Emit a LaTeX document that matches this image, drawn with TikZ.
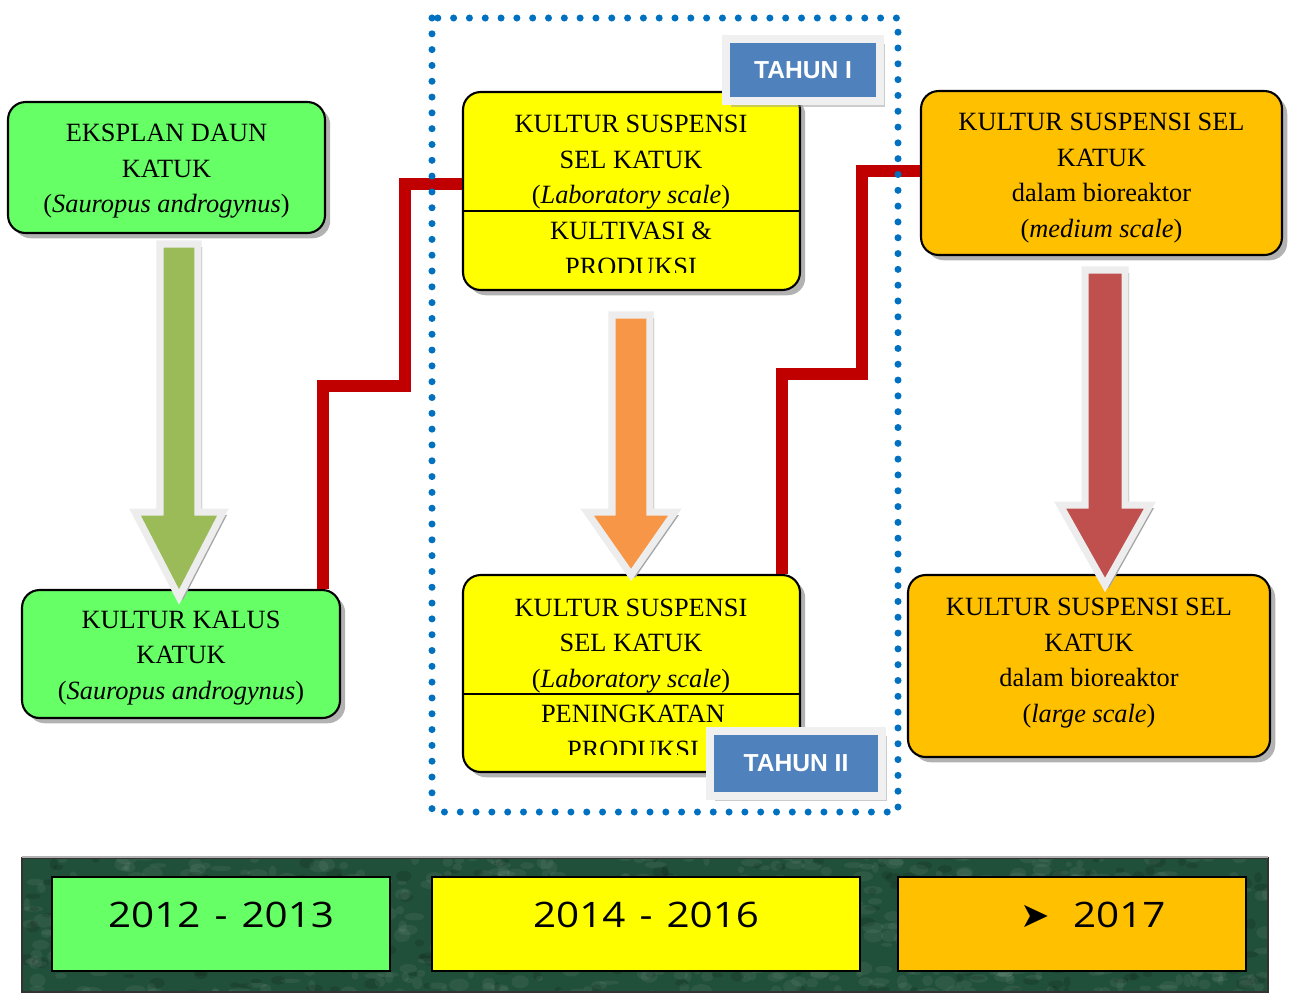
\documentclass[tikz,border=0pt]{standalone}
\usepackage{fontspec}
\setmainfont{Liberation Serif}
\newfontfamily\labelfont{Liberation Sans}
\newfontfamily\yearfont[FakeStretch=1.15]{Open Sans}
\newfontfamily\symfont{DejaVu Sans}
\usetikzlibrary{shadows}
\usetikzlibrary{calc}

\definecolor{boxgreen}{HTML}{66FF66}
\definecolor{boxyellow}{HTML}{FFFF00}
\definecolor{boxorange}{HTML}{FFC000}
\definecolor{arrgreen}{HTML}{9BBB59}
\definecolor{arrorange}{HTML}{F79646}
\definecolor{arrred}{HTML}{C0504D}
\definecolor{linered}{HTML}{C00000}
\definecolor{dotblue}{HTML}{0070C0}
\definecolor{tahunblue}{HTML}{4F81BD}
\definecolor{bargreen}{HTML}{21503A}

\tikzset{
  box/.style={draw=black, line width=1.2pt, rounded corners=10pt, inner sep=0pt,
    drop shadow={shadow xshift=3pt, shadow yshift=-3pt, fill=black!60}},
  boxtext/.style={align=center, inner sep=0pt, font=\fontsize{15}{20.2}\selectfont},
  conn/.style={draw=linered, line width=6.8pt},
  dotline/.style={draw=dotblue, line width=4pt, line cap=round, dash pattern=on 0pt off 9pt},
  tahun/.style={fill=tahunblue, draw=white!94!black, line width=4.5pt, text=white,
    font=\labelfont\bfseries\fontsize{14}{16}\selectfont,
    drop shadow={shadow xshift=3pt, shadow yshift=-3pt, fill=black!40}},
  yearbox/.style={draw=black, line width=1.2pt, text depth=10pt,
    font=\yearfont\fontsize{20}{24}\selectfont}
}

% panah besar: x tengah, setengah lebar, atas, awal kepala, setengah kepala, ujung, warna
\newcommand{\fatarrow}[7]{%
  \fill[black!35, shift={(4,3)}] (#1-#2,#3) -- (#1+#2,#3) -- (#1+#2,#4) -- (#1+#5,#4)
    -- (#1,#6) -- (#1-#5,#4) -- (#1-#2,#4) -- cycle;
  \draw[line width=4pt, draw=white!93!black, fill=#7] (#1-#2,#3) -- (#1+#2,#3) -- (#1+#2,#4)
    -- (#1+#5,#4) -- (#1,#6) -- (#1-#5,#4) -- (#1-#2,#4) -- cycle;
}

\begin{document}
\begin{tikzpicture}[x=0.02cm, y=-0.02cm]
  \useasboundingbox (0,0) rectangle (1291,992);

  % Kotak-kotak
  \node[box, fill=boxgreen, minimum width=6.34cm, minimum height=2.62cm] (eksplan) at (166.5,167.5) {};
  \node[box, fill=boxgreen, minimum width=6.36cm, minimum height=2.56cm] (kalus) at (181,654) {};
  \node[box, fill=boxyellow, minimum width=6.74cm, minimum height=3.96cm] (susp1) at (631.5,191) {};
  \node[box, fill=boxyellow, minimum width=6.74cm, minimum height=3.94cm] (susp2) at (631.5,673.5) {};
  \node[box, fill=boxorange, minimum width=7.22cm, minimum height=3.28cm] (bio1) at (1101.5,173) {};
  \node[box, fill=boxorange, minimum width=7.24cm, minimum height=3.64cm] (bio2) at (1089,666) {};

  % Isi kotak
  \node[boxtext] (eksplantxt) at ($(eksplan)+(0,4)$) {EKSPLAN DAUN\\KATUK\\(\textit{Sauropus androgynus})};
  \node[boxtext] (kalustxt) at ($(kalus)+(0,4)$) {KULTUR KALUS\\KATUK\\(\textit{Sauropus androgynus})};
  \node[boxtext] (bio1txt) at ($(bio1)+(0,5)$)
    {KULTUR SUSPENSI SEL\\KATUK\\dalam bioreaktor\\(\textit{medium scale})};
  \node[boxtext] (bio2txt) at ($(bio2)+(0,-3)$)
    {KULTUR SUSPENSI SEL\\KATUK\\dalam bioreaktor\\(\textit{large scale})};
  \draw[line width=1.2pt] (susp1.west |- 0,211) -- (susp1.east |- 0,211);
  \draw[line width=1.2pt] (susp2.west |- 0,694) -- (susp2.east |- 0,694);
  \node[boxtext] (lab1) at (631,162.5) {KULTUR SUSPENSI\\SEL KATUK\\(\textit{Laboratory scale})};
  \node[boxtext] (lab2) at (631,646) {KULTUR SUSPENSI\\SEL KATUK\\(\textit{Laboratory scale})};
  \begin{scope}
    \clip (463,212) rectangle (800,272);
    \node[boxtext] (kultivasi) at (631,249) {KULTIVASI \&\\PRODUKSI};
  \end{scope}
  \begin{scope}
    \clip (463,695) rectangle (800,754);
    \node[boxtext] (peningkatan) at (633,732) {PENINGKATAN\\PRODUKSI};
  \end{scope}

  % Penghubung
  \coordinate (belok1) at (405,386);
  \coordinate (belok2) at (862,374);
  \draw[conn] ($(kalus.north east)+(-18,0)$) |- (belok1) |- ($(susp1.west)+(0,-7)$);
  \draw[conn] ($(susp2.north east)+(-19,0)$) |- (belok2) |- ($(bio1.west)+(0,-2)$);

  % Bingkai tahun
  \draw[dotline] (432,18) rectangle (898,812);

  % Panah besar
  \fatarrow{179}{19}{244}{512}{44}{597}{arrgreen}
  \fatarrow{631}{19}{315}{512}{44}{575}{arrorange}
  \fatarrow{1105}{20}{270}{505}{45}{585}{arrred}

  % Label tahun
  \node[tahun, minimum width=3.08cm, minimum height=1.25cm] (tahun1) at (803,70) {TAHUN I};
  \node[tahun, minimum width=3.44cm, minimum height=1.3cm] (tahun2) at (796,763.5) {TAHUN II};

  % Garis waktu
  \begin{scope}
    \clip (22,858) rectangle (1268,992);
    \fill[bargreen] (22,858) rectangle (1268,992);
    \pgfmathsetseed{12}
    \foreach \i in {1,...,700}{
      \pgfmathsetmacro{\tx}{22+1246*rnd}
      \pgfmathsetmacro{\ty}{850+150*rnd}
      \pgfmathsetmacro{\ra}{3+8*rnd}
      \pgfmathsetmacro{\rb}{2+5*rnd}
      \fill[white, opacity=0.06] (\tx,\ty) ellipse ({\ra*0.02cm} and {\rb*0.02cm});
    }
    \foreach \i in {1,...,300}{
      \pgfmathsetmacro{\tx}{22+1246*rnd}
      \pgfmathsetmacro{\ty}{850+150*rnd}
      \fill[black, opacity=0.12] (\tx,\ty) ellipse ({(3+6*rnd)*0.02cm} and {(2+4*rnd)*0.02cm});
    }
  \end{scope}
  \draw[black!80, line width=0.8pt] (22,858) rectangle (1268,992);
  \draw[black!30, line width=0.8pt] (22,857) -- (1268,857);
  \node[yearbox, fill=boxgreen, minimum width=6.76cm, minimum height=1.88cm] (th1) at (221,924)
    {2012\hspace{0.4em}-\hspace{0.4em}2013};
  \node[yearbox, fill=boxyellow, minimum width=8.56cm, minimum height=1.88cm] (th2) at (646,924)
    {2014\hspace{0.4em}-\hspace{0.4em}2016};
  \node[yearbox, fill=boxorange, minimum width=6.96cm, minimum height=1.88cm] (th3) at (1072,924)
    {\hspace*{24pt}{\symfont ➤}\hspace{0.65em}2017};
\end{tikzpicture}
\end{document}
